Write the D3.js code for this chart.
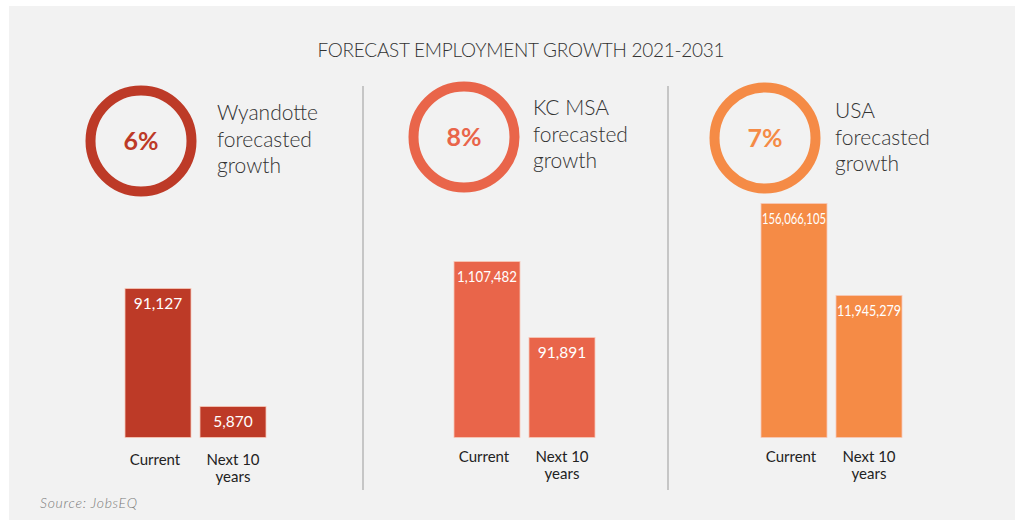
<!DOCTYPE html>
<html><head><meta charset="utf-8">
<script src="https://cdn.jsdelivr.net/npm/d3@7"></script>
<style>html,body{margin:0;padding:0;background:#fff;}svg{display:block;}</style>
</head><body>
<svg id="chart" width="1024" height="532"></svg>
<script>
// ---- data ----
const regions = ["Wyandotte", "KC MSA", "USA"];
const growthPct = [6, 8, 7];
const currentJobs = [91127, 1107482, 156066105];
const next10Jobs = [5870, 91891, 11945279];
const barCategories = ["Current", "Next 10 years"];
const title = "FORECAST EMPLOYMENT GROWTH 2021-2031";
const source = "Source: JobsEQ";

// ---- layout / style ----
const colors = ["#bd3a27", "#e9654a", "#f58b46"];
const panelX = [125, 454, 761];       // left edge of first bar per panel
const circleC = [[141, 141], [464, 137], [765, 138]];
const labelX = [217, 533, 835];
const labelY0 = [120, 115, 118];
const capY = [465, 462, 462];
// displayed bar heights (infographic, not proportional): [next, current]
const designH = [[31, 149], [100, 176], [142, 234]];
const baseY = 437.5, barW = 66, barGap = 9;
const font = "'Futura','Century Gothic','Lato','Noto Sans',sans-serif";

const svg = d3.select("#chart");
svg.append("rect").attr("x", 9).attr("y", 6).attr("width", 1006).attr("height", 514).attr("fill", "#f2f2f2");

svg.append("text").attr("x", 521).attr("y", 57).attr("text-anchor", "middle")
  .attr("font-family", font).attr("font-weight", 300).attr("font-size", 19).attr("fill", "#333")
  .attr("textLength", 407).text(title);

[363, 668].forEach(x => svg.append("line").attr("x1", x).attr("x2", x).attr("y1", 86).attr("y2", 490)
  .attr("stroke", "#9a9a9a").attr("stroke-width", 1));

svg.append("text").attr("x", 40).attr("y", 508).attr("font-family", font).attr("font-style", "italic")
  .attr("font-weight", 300).attr("font-size", 14).attr("fill", "#7a7a7a").attr("textLength", 97).text(source);

regions.forEach((r, i) => {
  const g = svg.append("g");
  const col = colors[i];
  // ring
  g.append("circle").attr("cx", circleC[i][0]).attr("cy", circleC[i][1]).attr("r", 50.5)
    .attr("fill", "none").attr("stroke", col).attr("stroke-width", 10);
  g.append("text").attr("x", circleC[i][0]).attr("y", circleC[i][1] + 9).attr("text-anchor", "middle")
    .attr("font-family", font).attr("font-weight", "bold").attr("font-size", 25).attr("fill", col)
    .text(growthPct[i] + "%");
  // label
  const lines = [r, "forecasted", "growth"];
  lines.forEach((t, k) => g.append("text").attr("x", labelX[i]).attr("y", labelY0[i] + k * 26.5)
    .attr("font-family", font).attr("font-weight", 300).attr("font-size", 21).attr("fill", "#333").text(t));

  // bars
  const vals = [currentJobs[i], next10Jobs[i]];
  const x = d3.scaleBand().domain(barCategories).range([panelX[i], panelX[i] + 2 * barW + barGap]).paddingInner(barGap / (barW + barGap)).paddingOuter(0);
  const h = d3.scaleLinear().domain([0, next10Jobs[i], currentJobs[i]]).range([0, designH[i][0], designH[i][1]]);
  const fmt = d3.format(",");
  barCategories.forEach((c, k) => {
    const bh = h(vals[k]);
    g.append("rect").attr("x", x(c)).attr("y", baseY - bh).attr("width", x.bandwidth()).attr("height", bh)
      .attr("fill", col).attr("stroke", "#f7c9b8").attr("stroke-width", 0.8);
    const s = fmt(vals[k]);
    const long = s.length > 7;
    g.append("text").attr("x", x(c) + x.bandwidth() / 2).attr("y", baseY - bh + 20).attr("text-anchor", "middle")
      .attr("font-family", font).attr("font-weight", 400).attr("font-size", s.length > 9 ? 14.5 : 15.5).attr("fill", "#fff")
      .attr("textLength", long ? x.bandwidth() - (s.length > 9 ? 2 : 6) : null)
      .attr("lengthAdjust", "spacingAndGlyphs")
      .text(s);
    const capLines = c === "Current" ? ["Current"] : ["Next 10", "years"];
    capLines.forEach((t, m) => g.append("text").attr("x", x(c) + x.bandwidth() / 2 + (c === "Current" ? -3 : 0))
      .attr("y", capY[i] + m * 17).attr("text-anchor", "middle")
      .attr("font-family", font).attr("font-weight", 400).attr("font-size", 15).attr("fill", "#222").text(t));
  });
});
</script>
</body></html>
